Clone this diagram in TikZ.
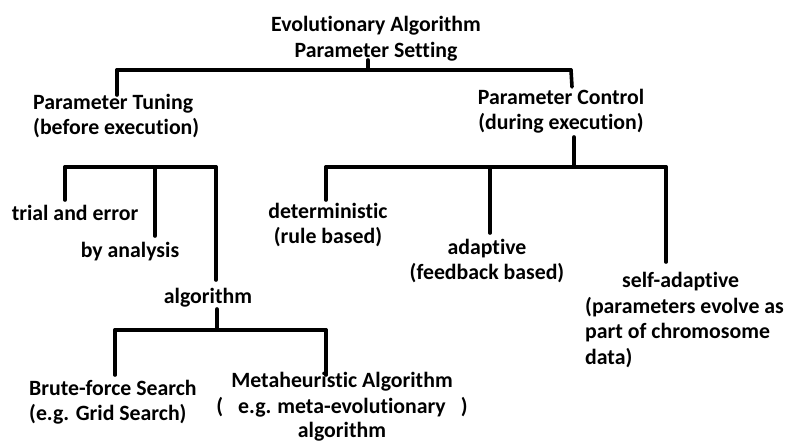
\documentclass[tikz,border=0pt]{standalone}
\usepackage{fontspec}
\setmainfont{Carlito}[Ligatures=NoCommon]
\usetikzlibrary{positioning}

\begin{document}
\begin{tikzpicture}[x=1pt,y=-1pt,inner sep=0pt,every node/.style={font=\fontsize{21.8}{25.5}\selectfont\bfseries}]
      % Styles
      \tikzset{tree/.style={line width=3.6pt,line cap=round,black},
               label/.style={align=center,anchor=center},
               leftlabel/.style={align=left,anchor=west}}

      \useasboundingbox (0,0) rectangle (786,445);

      % Texts (pixel positions of the sketch)
      \node[label] (title) at (376,38.5) {Evolutionary Algorithm\\Parameter Setting};
      \node[leftlabel] (tuning) at (33,116) {Parameter Tuning\\(before execution)};
      \node[label] (control) at (561,111) {Parameter Control\\(during execution)};
      \node[label] (trial) at (75,213) {trial and error};
      \node[label] (analysis) at (130,252) {by analysis};
      \node[label] (algo) at (208,298) {algorithm};
      \node[leftlabel] (brute) at (29,402) {Brute-force Search\\(e.g. Grid Search)};
      \node[label] (meta) at (342,407) {Metaheuristic Algorithm\\(\hspace{15pt}e.g.\hspace{6pt}meta-evolutionary\hspace{15pt})\\[-1pt]algorithm};
      \node[label] (determ) at (328,225) {deterministic\\(rule based)};
      \node[label] (adapt) at (487,261) {adaptive\\(feedback based)};
      \node[leftlabel] (self) at (585,320) {\hspace*{37pt}self-adaptive\\(parameters evolve as\\part of chromosome\\data)};

      % Junction points of the tree
      \coordinate (ps) at (368,60);
      \coordinate (top) at (368,70);
      \coordinate (topL) at (117,70);
      \coordinate (topR) at (571,70);
      \coordinate (tunL) at (65,167);
      \coordinate (tunM) at (155,167);
      \coordinate (tunR) at (216,167);
      \coordinate (pc) at (574,137);
      \coordinate (ctlL) at (326,167);
      \coordinate (ctlM) at (490,167);
      \coordinate (ctlR) at (666,167);
      \coordinate (al) at (217,309);
      \coordinate (algL) at (115,330);
      \coordinate (algR) at (326,330);

      % Top level
      \draw[tree] (ps) -- (top);
      \draw[tree] (topL) -- (topR);
      \draw[tree] (topL) -- ++(0,25);
      \draw[tree] (topR) -- ++(1,17);

      % Tuning branch
      \draw[tree] (tunL) -- (tunR);
      \draw[tree] (tunL) -- ++(0,33);
      \draw[tree] (tunM) -- ++(0,69);
      \draw[tree] (tunR) -- ++(0,113);

      % Control branch
      \draw[tree] (pc) -- (pc |- ctlM);
      \draw[tree] (ctlL) -- (ctlR);
      \draw[tree] (ctlL) -- ++(0,33);
      \draw[tree] (ctlM) -- ++(0,66);
      \draw[tree] (ctlR) -- ++(0,95);

      % Algorithm branch
      \draw[tree] (al) -- (al |- algL);
      \draw[tree] (algL) -- (algR);
      \draw[tree] (algL) -- ++(0,45);
      \draw[tree] (algR) -- ++(0,45);
    \end{tikzpicture}
\end{document}
